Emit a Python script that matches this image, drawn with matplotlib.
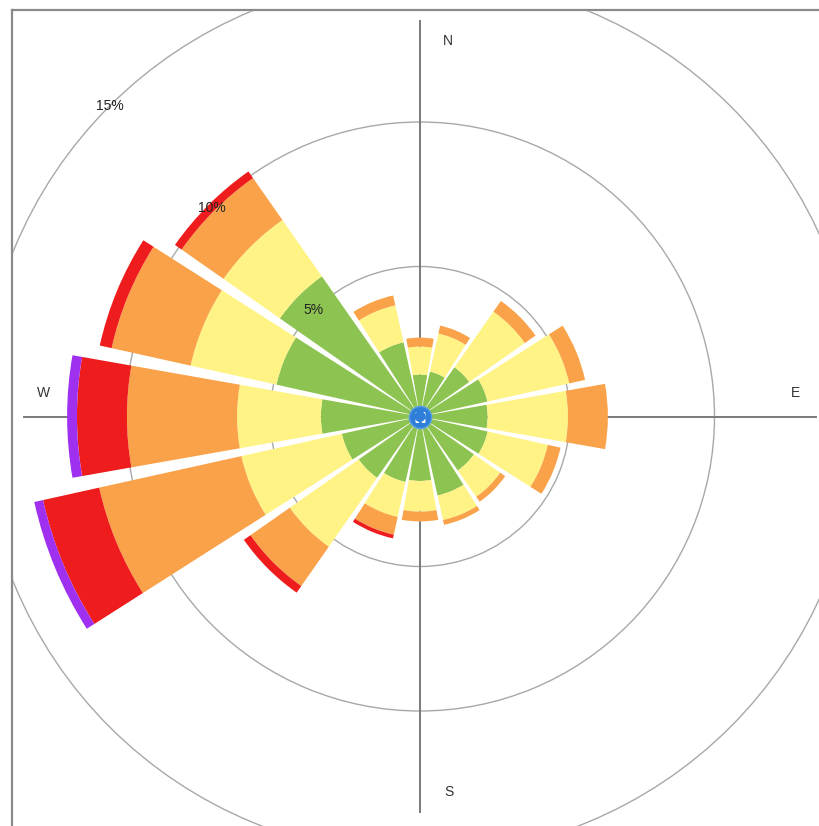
import numpy as np
import matplotlib
matplotlib.use('Agg')
import matplotlib.pyplot as plt
from matplotlib.patches import Rectangle
from matplotlib.lines import Line2D
from matplotlib.transforms import offset_copy

plt.rcParams['font.family'] = ['Liberation Sans', 'DejaVu Sans']

# ---- data (percent frequency per direction, stacked by speed class) ----
directions = ['N', 'NNE', 'NE', 'ENE', 'E', 'ESE', 'SE', 'SSE',
              'S', 'SSW', 'SW', 'WSW', 'W', 'WNW', 'NW', 'NNW']
green  = [1.26, 1.40, 1.89, 2.20, 2.15, 2.21, 2.09, 2.61, 2.04, 2.13, 2.40, 2.58, 3.24, 4.90, 5.73, 2.44]
yellow = [0.97, 1.35, 2.35, 2.90, 2.78, 2.13, 1.11, 0.87, 1.06, 1.24, 2.91, 3.56, 2.90, 3.04, 2.38, 1.31]
orange = [0.31, 0.28, 0.45, 0.56, 1.38, 0.45, 0.21, 0.17, 0.34, 0.63, 1.66, 5.04, 3.81, 2.80, 1.77, 0.35]
red    = [0.00, 0.00, 0.00, 0.00, 0.00, 0.00, 0.00, 0.00, 0.00, 0.13, 0.28, 1.99, 1.73, 0.42, 0.28, 0.00]
purple = [0.00, 0.00, 0.00, 0.00, 0.00, 0.00, 0.00, 0.00, 0.00, 0.00, 0.00, 0.31, 0.34, 0.00, 0.00, 0.00]
ring_levels = [5, 10, 15]
ring_labels = ['5%', '10%', '15%']
compass_labels = ['N', 'E', 'S', 'W']

series = [green, yellow, orange, red, purple]
colors = ['#8dc451', '#fff385', '#f9a24a', '#ee1c1c', '#a030f0']

# ---- layout ----
W, H = 820, 826
fig = plt.figure(figsize=(W / 100, H / 100), dpi=100)
cx, cy = 420.0, 416.5      # centre in pixels (from top-left)
k = 28.9                   # pixels per percent
o = 5.5                    # pixel offset of r=0 from centre
rmax = 16.0
R = o + rmax * k
ax = fig.add_axes([(cx - R) / W, (H - cy - R) / H, 2 * R / W, 2 * R / H],
                  projection='polar')
ax.set_theta_zero_location('N')
ax.set_theta_direction(-1)
ax.set_ylim(0, rmax)
ax.set_rorigin(-o / k)
ax.set_xticks([])
ax.set_yticks(ring_levels)
ax.set_yticklabels([])
ax.tick_params(length=0)
ax.yaxis.grid(True, color='#a8a8a8', lw=1.0)
ax.set_axisbelow(True)
for sp in ax.spines.values():
    sp.set_visible(False)
ax.patch.set_alpha(0)

theta = np.deg2rad(np.arange(len(directions)) * 22.5)
rorig = ax.get_rorigin()

# compass cross lines
for t in np.deg2rad([0, 90, 180, 270]):
    ax.plot([t, t], [rorig, 13.5], color='#7a7a7a', lw=1.4, zorder=1.5)

# stacked bars
bottom = np.zeros(len(directions))
for vals, col in zip(series, colors):
    v = np.array(vals)
    ax.bar(theta, v, width=np.deg2rad(20), bottom=bottom, color=col,
           edgecolor='none', zorder=3, align='center')
    bottom += v

# ring labels along NW
for lev, lab in zip(ring_levels, ring_labels):
    ax.text(np.deg2rad(315), lev, lab, ha='center', va='center',
            fontsize=10, color='#222222', zorder=6)

# compass letters
r_lab = (376 - o) / k
offs = {'N': (28, 0), 'E': (0, 24), 'S': (29, 0), 'W': (0, 24)}
for lab, t in zip(compass_labels, np.deg2rad([0, 90, 180, 270])):
    tr = offset_copy(ax.transData, fig=fig, x=offs[lab][0], y=offs[lab][1], units='dots')
    ax.text(t, r_lab, lab, transform=tr, ha='center', va='center',
            fontsize=10, color='#333333', zorder=6, clip_on=False)

# calm circle
ax.plot([0], [rorig], marker='o', ms=16, color='#2f7fd8', mec='#5aa0e8',
        mew=1, zorder=7, clip_on=False)
ax.plot([0], [rorig], marker='s', ms=7, color='white', mec='none', zorder=8)
ax.plot([0], [rorig], marker='+', ms=9, color='#2f7fd8', mew=2, zorder=9)

# frame (top and left), clipping the drawing
fig.add_artist(Rectangle((0, (H - 10) / H), 1, 10 / H, transform=fig.transFigure,
                         color='white', zorder=10))
fig.add_artist(Rectangle((0, 0), 12 / W, 1, transform=fig.transFigure,
                         color='white', zorder=10))
fig.add_artist(Line2D([12 / W, 1], [(H - 10) / H, (H - 10) / H],
                      transform=fig.transFigure, color='#8a8a8a', lw=1.6, zorder=11))
fig.add_artist(Line2D([12 / W, 12 / W], [0, (H - 10) / H],
                      transform=fig.transFigure, color='#8a8a8a', lw=1.6, zorder=11))

fig.savefig('out.png', dpi=100)
